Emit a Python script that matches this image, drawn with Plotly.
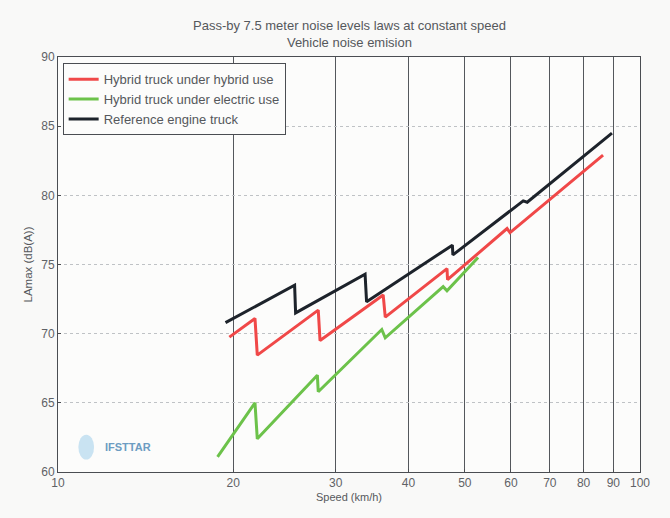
import plotly.graph_objects as go

# Data (speed km/h, LAmax dB(A))
hybrid_speed = [19.7, 21.8, 22.0, 28.0, 28.2, 36.2, 36.5, 46.6, 46.7, 59.1, 59.8, 86.4]
hybrid_level = [69.75, 71.1, 68.45, 71.7, 69.5, 72.8, 71.2, 74.7, 73.9, 77.6, 77.3, 82.9]

electric_speed = [18.8, 21.8, 22.0, 27.9, 28.0, 36.0, 36.5, 45.9, 46.6, 52.7]
electric_level = [61.1, 65.0, 62.4, 67.0, 65.8, 70.3, 69.7, 73.4, 73.1, 75.5]

reference_speed = [19.4, 25.5, 25.6, 33.7, 33.9, 47.6, 47.7, 63.0, 64.0, 89.5]
reference_level = [70.8, 73.5, 71.5, 74.3, 72.3, 76.4, 75.7, 79.6, 79.5, 84.5]

x_ticks = [10, 20, 30, 40, 50, 60, 70, 80, 90, 100]
y_ticks = [60, 65, 70, 75, 80, 85, 90]

FONT = "Liberation Sans, Arial, sans-serif"
GRAY = "#5f6266"

fig = go.Figure()
fig.add_trace(go.Scatter(x=hybrid_speed, y=hybrid_level, mode="lines",
                         name="Hybrid truck under hybrid use",
                         line=dict(color="#f04848", width=3)))
fig.add_trace(go.Scatter(x=electric_speed, y=electric_level, mode="lines",
                         name="Hybrid truck under electric use",
                         line=dict(color="#6cc24a", width=3)))
fig.add_trace(go.Scatter(x=reference_speed, y=reference_level, mode="lines",
                         name="Reference engine truck",
                         line=dict(color="#1d232b", width=3)))

fig.update_layout(
    width=670, height=518,
    margin=dict(l=58, r=30, t=57, b=46),
    paper_bgcolor="#f9f9f8",
    plot_bgcolor="#fcfcfb",
    font=dict(family=FONT, color=GRAY, size=12),
    showlegend=True,
    legend=dict(x=0.008, y=0.985, xanchor="left", yanchor="top",
                bgcolor="#fcfcfb", bordercolor="#4a4d52", borderwidth=1,
                font=dict(size=13, color="#55585c"),
                tracegroupgap=0, itemwidth=30),
    xaxis=dict(type="log", range=[1, 2], tickvals=x_ticks,
               ticktext=[str(v) for v in x_ticks],
               showgrid=True, gridcolor="#54575c", gridwidth=1,
               showline=True, linecolor="#4a4d52", linewidth=1, mirror=True,
               ticks="inside", ticklen=3, tickcolor="#4a4d52",
               tickfont=dict(size=12, color=GRAY), zeroline=False,
               title=dict(text="Speed (km/h)", font=dict(size=11, color="#55585c"),
                          standoff=3)),
    yaxis=dict(range=[60, 90], tickvals=y_ticks,
               showgrid=True, gridcolor="#bfc2c5", gridwidth=1, griddash="dot",
               showline=True, linecolor="#4a4d52", linewidth=1, mirror=True,
               ticks="inside", ticklen=3, tickcolor="#4a4d52",
               tickfont=dict(size=12, color=GRAY), zeroline=False,
               title=dict(text="LAmax (dB(A))", font=dict(size=11.5, color="#55585c"),
                          standoff=6)),
)

fig.add_annotation(xref="paper", yref="paper", x=0.5, y=1.0, yanchor="bottom",
                   yshift=5, showarrow=False, align="center",
                   text="Pass-by 7.5 meter noise levels laws at constant speed<br>Vehicle noise emision",
                   font=dict(size=13, color="#55585c", family=FONT))

# IFSTTAR logo (text + pale emblem)
fig.add_shape(type="circle", xref="paper", yref="paper",
              x0=0.035, x1=0.062, y0=0.03, y1=0.09,
              fillcolor="#bcdcf0", line=dict(width=0), opacity=0.8)
fig.add_annotation(xref="paper", yref="paper", x=0.078, y=0.06, xanchor="left",
                   yanchor="middle", showarrow=False, text="<b>IFSTTAR</b>",
                   font=dict(size=11, color="#6d9cc2", family=FONT))

fig.write_html("out.html")
